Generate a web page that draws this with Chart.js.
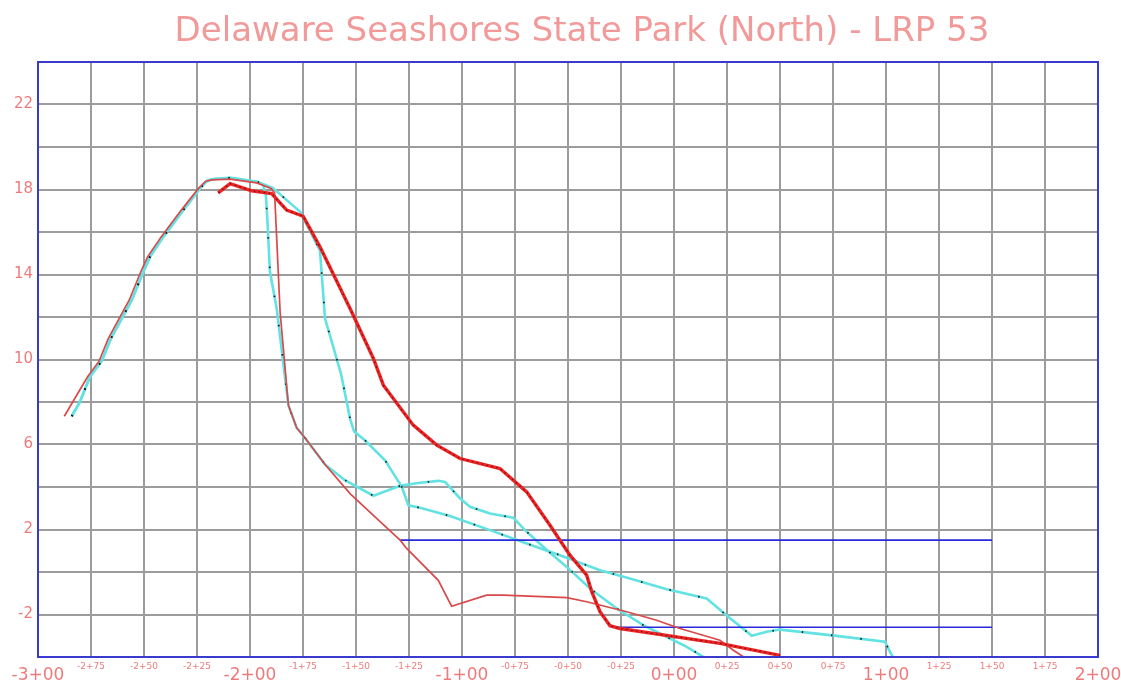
<!DOCTYPE html>
<html>
<head>
<meta charset="utf-8">
<script src="https://cdn.jsdelivr.net/npm/chart.js@4.4.1/dist/chart.umd.min.js"></script>
<style>
  html, body { margin: 0; padding: 0; background: #ffffff; }
  #wrap { width: 1121px; height: 682px; }
</style>
</head>
<body>
<div id="wrap"><canvas id="c" width="1121" height="682"></canvas></div>
<script>
// ---- Data (station in feet, elevation) ----
const chartTitle = 'Delaware Seashores State Park (North) - LRP 53';

const profileThinRedX = [-287.6, -276.6, -271.2, -266.8, -257.0, -251.5, -248.3, -241.9, -232.4, -224.3, -220.9, -217.9, -209.4, -196.8, -190.1, -188.4, -185.8, -181.9, -178.0, -174.1, -164.6, -152.8, -141.8, -129.2, -126.1, -111.2, -104.9, -88.4, -80.5, -50.6, -41.2, -22.3, -8.2, 2.8, 21.7, 28.0, 32.7];
const profileThinRedY = [7.33, 9.19, 9.92, 10.99, 12.79, 14.13, 14.83, 15.77, 17.03, 18.05, 18.39, 18.45, 18.49, 18.31, 18.05, 17.84, 12.24, 7.85, 6.79, 6.32, 5.06, 3.69, 2.67, 1.50, 1.11, -0.39, -1.61, -1.09, -1.09, -1.21, -1.40, -1.87, -2.27, -2.66, -3.21, -3.68, -3.99];

const profileCyanAX = [-284.1, -280.2, -275.5, -270.0, -265.6, -255.8, -250.3, -247.2, -240.9, -231.5, -223.6, -220.4, -218.1, -209.4, -196.8, -193.9, -192.5, -191.8, -190.6, -187.4, -181.9, -178.0, -174.1, -164.6, -155.2, -141.8, -129.2, -119.8, -111.2, -108.0, -100.9, -96.2, -86.8, -75.8, -70.3, -60.8, -50.6, -39.6, -27.0, -14.5, -1.9, 6.0, 13.8];
const profileCyanAY = [7.33, 8.01, 9.19, 9.92, 10.99, 12.79, 14.13, 14.83, 15.77, 17.03, 18.05, 18.39, 18.48, 18.55, 18.36, 18.24, 17.73, 16.56, 14.13, 12.40, 7.85, 6.79, 6.32, 5.06, 4.32, 3.59, 4.06, 4.20, 4.29, 4.24, 3.46, 3.07, 2.75, 2.56, 1.97, 1.11, 0.24, -0.78, -1.72, -2.50, -3.13, -3.52, -3.99];

const profileCyanBX = [-284.1, -280.2, -275.5, -270.0, -265.6, -255.8, -250.3, -247.2, -240.9, -231.5, -223.6, -220.4, -218.1, -209.4, -196.8, -189.3, -182.7, -176.4, -167.0, -164.6, -157.1, -152.8, -150.9, -145.8, -136.3, -128.4, -125.3, -119.8, -105.7, -86.8, -69.5, -53.8, -34.9, -20.8, -3.4, 15.4, 25.6, 36.7, 43.7, 50.0, 73.6, 99.5, 101.9, 103.3];
const profileCyanBY = [7.33, 8.01, 9.19, 9.92, 10.99, 12.79, 14.13, 14.83, 15.77, 17.03, 18.05, 18.39, 18.48, 18.55, 18.36, 18.08, 17.50, 16.96, 15.13, 11.93, 9.34, 7.22, 6.61, 6.20, 5.26, 4.01, 3.14, 3.02, 2.63, 1.97, 1.34, 0.79, 0.08, -0.31, -0.81, -1.25, -2.11, -3.00, -2.81, -2.71, -2.97, -3.28, -3.76, -4.02];

const profileThickRedX = [-215.0, -209.4, -199.2, -189.8, -182.7, -174.9, -167.0, -152.8, -141.8, -137.1, -123.0, -111.9, -100.9, -82.1, -69.5, -58.5, -49.1, -41.2, -38.8, -34.9, -30.2, -25.5, 21.7, 50.0];
const profileThickRedY = [17.84, 18.28, 17.94, 17.81, 17.03, 16.74, 15.30, 12.40, 10.05, 8.79, 6.91, 5.97, 5.34, 4.87, 3.77, 2.20, 0.79, -0.15, -0.93, -1.87, -2.53, -2.66, -3.36, -3.92];

const refLineUpperX = [-129.2, 150];
const refLineUpperY = [1.5, 1.5];
const refLineLowerX = [-29.2, 150];
const refLineLowerY = [-2.6, -2.6];

const yLabelValues = [22, 18, 14, 10, 6, 2, -2];
const xMin = -300, xMax = 200, xStep = 25;
const yMin = -4, yMax = 24, yStep = 2;

// ---- helpers ----
function pts(xs, ys) { return xs.map((x, i) => ({ x: x, y: ys[i] })); }
function station(v) {
  const a = Math.abs(Math.round(v));
  const h = Math.floor(a / 100);
  const r = a % 100;
  return (v < 0 ? '-' : '') + h + '+' + String(r).padStart(2, '0');
}

const labelColor = '#ee7b7b';

const frame = {
  id: 'frame',
  afterLayout(chart) {
    if (chart.titleBlock) { chart.titleBlock.left += 33; chart.titleBlock.right += 33; }
  },
  afterDraw(chart) {
    const a = chart.chartArea, ctx = chart.ctx;
    ctx.save();
    ctx.strokeStyle = '#3a3ad0';
    ctx.lineWidth = 2;
    ctx.strokeRect(a.left, a.top, a.right - a.left, a.bottom - a.top);
    ctx.restore();
  }
};

const base = { pointRadius: 0, pointHoverRadius: 0, tension: 0, fill: false };

// first dataset in the list is drawn on top
new Chart(document.getElementById('c'), {
  type: 'line',
  data: {
    datasets: [
      Object.assign({ label: 'thick red dots', data: pts(profileThickRedX, profileThickRedY), borderColor: '#801414', borderWidth: 1.4, borderDash: [1.5, 3.5] }, base),
      Object.assign({ label: 'thick red', data: pts(profileThickRedX, profileThickRedY), borderColor: '#ee2424', borderWidth: 3.4 }, base),
      Object.assign({ label: 'thin red', data: pts(profileThinRedX, profileThinRedY), borderColor: '#d84a4a', borderWidth: 1.7 }, base),
      Object.assign({ label: 'ref upper', data: pts(refLineUpperX, refLineUpperY), borderColor: '#2a2ad8', borderWidth: 1.6 }, base),
      Object.assign({ label: 'ref lower', data: pts(refLineLowerX, refLineLowerY), borderColor: '#2a2ad8', borderWidth: 1.6 }, base),
      Object.assign({ label: 'cyan A dots', data: pts(profileCyanAX, profileCyanAY), borderColor: '#1a1a1a', borderWidth: 1.8, borderDash: [1.5, 28] }, base),
      Object.assign({ label: 'cyan B dots', data: pts(profileCyanBX, profileCyanBY), borderColor: '#1a1a1a', borderWidth: 1.8, borderDash: [1.5, 28] }, base),
      Object.assign({ label: 'cyan A', data: pts(profileCyanAX, profileCyanAY), borderColor: '#62e2e2', borderWidth: 2.6 }, base),
      Object.assign({ label: 'cyan B', data: pts(profileCyanBX, profileCyanBY), borderColor: '#62e2e2', borderWidth: 2.6 }, base)
    ]
  },
  options: {
    responsive: false,
    animation: false,
    events: [],
    layout: { padding: { left: 0, right: 23, top: 0, bottom: 0 } },
    plugins: {
      legend: { display: false },
      tooltip: { enabled: false },
      title: {
        display: true,
        text: chartTitle,
        color: '#f29a9a',
        font: { family: 'DejaVu Sans', size: 34, weight: 'normal', lineHeight: 1.2 },
        padding: { top: 12, bottom: 9.2 }
      }
    },
    scales: {
      x: {
        type: 'linear',
        min: xMin, max: xMax,
        afterFit(axis) { axis.height = 25; axis.paddingLeft = 0; axis.paddingRight = 0; },
        afterBuildTicks(axis) {
          const t = [];
          for (let v = xMin; v <= xMax; v += xStep) t.push({ value: v });
          axis.ticks = t;
        },
        grid: { color: '#9c9c9c', lineWidth: 2, drawTicks: false },
        border: { display: false },
        ticks: {
          autoSkip: false, maxRotation: 0, minRotation: 0,
          padding: 4,
          color: labelColor,
          font(ctx) {
            const v = ctx.tick ? ctx.tick.value : 0;
            return (v % 100 === 0)
              ? { family: 'DejaVu Sans', size: 17, lineHeight: 1.7 }
              : { family: 'DejaVu Sans', size: 9, lineHeight: 1.3 };
          },
          callback(v) { return station(v); }
        }
      },
      y: {
        type: 'linear',
        min: yMin, max: yMax,
        afterFit(axis) { axis.width = 38; axis.paddingTop = 0; axis.paddingBottom = 0; },
        afterBuildTicks(axis) {
          const t = [];
          for (let v = yMin; v <= yMax; v += yStep) t.push({ value: v });
          axis.ticks = t;
        },
        grid: { color: '#9c9c9c', lineWidth: 2, drawTicks: false },
        border: { display: false },
        ticks: {
          padding: 5,
          color: labelColor,
          font: { family: 'DejaVu Sans', size: 15 },
          callback(v) { return yLabelValues.indexOf(v) >= 0 ? String(v) : ''; }
        }
      }
    }
  },
  plugins: [frame]
});
</script>
</body>
</html>
